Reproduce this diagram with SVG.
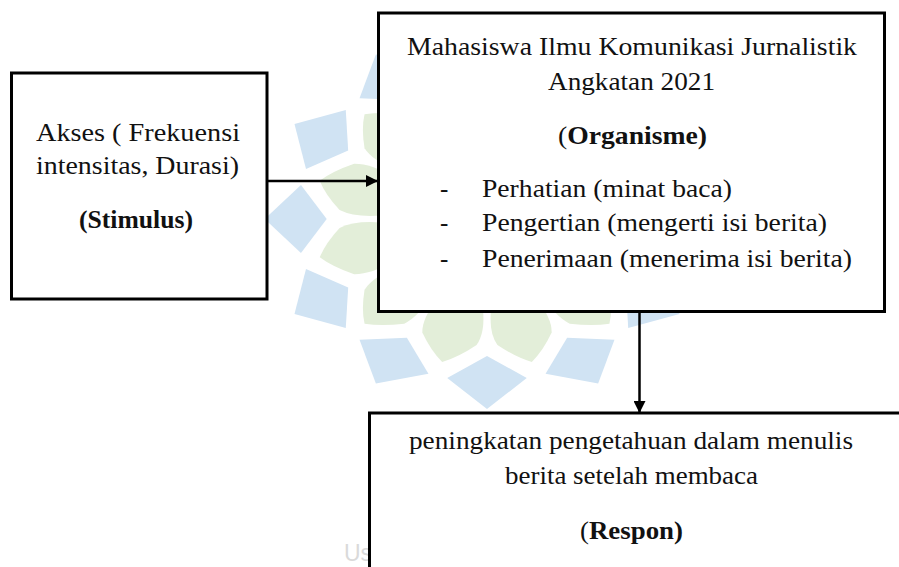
<svg xmlns="http://www.w3.org/2000/svg" xmlns:xlink="http://www.w3.org/1999/xlink" width="899" height="567" viewBox="0 0 899 567">
  <style>
    .box { fill: #ffffff; stroke: #000000; stroke-width: 3; }
    .t { font-family: 'Liberation Serif', 'Times New Roman', Times, serif; font-size: 25px; fill: #111111; }
    .b { font-weight: bold; }
    .conn { stroke: #000000; stroke-width: 2.5; fill: none; }
    .wb { fill: #d0e3f3; }
    .wg { fill: #e3eed9; }
  </style>
  <defs>
    <marker id="arrow" viewBox="0 0 12 12" refX="12" refY="6" markerWidth="12" markerHeight="12" markerUnits="userSpaceOnUse" orient="auto">
      <path d="M0,0 L12,6 L0,12 Z" fill="#000000"/>
    </marker>
    <path id="petalB" d="M-26,0 L-4,-34 L27,0 L-4,34 Z"/>
    <path id="petalG" d="M-30,-20 Q-8,-28 6,-24 Q22,-12 30,0 Q22,12 6,24 Q-8,28 -30,20 Z"/>
  </defs>

  <!-- watermark -->
  <g id="watermark">
    <g transform="translate(487,219) scale(1.17,1)">
      <g class="wb">
        <use xlink:href="#petalB" transform="rotate(0) translate(163,0)"/>
        <use xlink:href="#petalB" transform="rotate(30) translate(163,0)"/>
        <use xlink:href="#petalB" transform="rotate(60) translate(163,0)"/>
        <use xlink:href="#petalB" transform="rotate(90) translate(163,0)"/>
        <use xlink:href="#petalB" transform="rotate(120) translate(163,0)"/>
        <use xlink:href="#petalB" transform="rotate(150) translate(163,0)"/>
        <use xlink:href="#petalB" transform="rotate(180) translate(163,0)"/>
        <use xlink:href="#petalB" transform="rotate(210) translate(163,0)"/>
        <use xlink:href="#petalB" transform="rotate(240) translate(163,0)"/>
        <use xlink:href="#petalB" transform="rotate(270) translate(163,0)"/>
        <use xlink:href="#petalB" transform="rotate(300) translate(163,0)"/>
        <use xlink:href="#petalB" transform="rotate(330) translate(163,0)"/>
      </g>
      <g class="wg">
        <use xlink:href="#petalG" transform="rotate(15) translate(118,0)"/>
        <use xlink:href="#petalG" transform="rotate(45) translate(118,0)"/>
        <use xlink:href="#petalG" transform="rotate(75) translate(118,0)"/>
        <use xlink:href="#petalG" transform="rotate(105) translate(118,0)"/>
        <use xlink:href="#petalG" transform="rotate(135) translate(118,0)"/>
        <use xlink:href="#petalG" transform="rotate(165) translate(118,0)"/>
        <use xlink:href="#petalG" transform="rotate(195) translate(118,0)"/>
        <use xlink:href="#petalG" transform="rotate(225) translate(118,0)"/>
        <use xlink:href="#petalG" transform="rotate(255) translate(118,0)"/>
        <use xlink:href="#petalG" transform="rotate(285) translate(118,0)"/>
        <use xlink:href="#petalG" transform="rotate(315) translate(118,0)"/>
        <use xlink:href="#petalG" transform="rotate(345) translate(118,0)"/>
      </g>
    </g>
    <text x="344" y="561" font-family="'Liberation Sans', Arial, sans-serif" font-size="23" fill="#dadada">Us</text>
  </g>

  <!-- nodes -->
  <g id="stimulus">
    <rect class="box" x="11.5" y="73" width="255.5" height="226"/>
    <text class="t" x="36" y="141" textLength="204" lengthAdjust="spacingAndGlyphs">Akses ( Frekuensi</text>
    <text class="t" x="36" y="174" textLength="203" lengthAdjust="spacingAndGlyphs">intensitas, Durasi)</text>
    <text class="t b" x="79" y="228" textLength="114" lengthAdjust="spacingAndGlyphs">(Stimulus)</text>
  </g>

  <g id="organisme">
    <rect class="box" x="378.5" y="13" width="506" height="298.5"/>
    <text class="t" x="407" y="55" textLength="450" lengthAdjust="spacingAndGlyphs">Mahasiswa Ilmu Komunikasi Jurnalistik</text>
    <text class="t" x="548" y="90" textLength="167" lengthAdjust="spacingAndGlyphs">Angkatan 2021</text>
    <text class="t" x="558" y="144" textLength="149" lengthAdjust="spacingAndGlyphs">(<tspan class="b">Organisme)</tspan></text>
    <text class="t" x="440" y="197">-</text>
    <text class="t" x="482" y="197" textLength="250" lengthAdjust="spacingAndGlyphs">Perhatian (minat baca)</text>
    <text class="t" x="440" y="231">-</text>
    <text class="t" x="482" y="231" textLength="345" lengthAdjust="spacingAndGlyphs">Pengertian (mengerti isi berita)</text>
    <text class="t" x="440" y="267">-</text>
    <text class="t" x="482" y="267" textLength="370" lengthAdjust="spacingAndGlyphs">Penerimaan (menerima isi berita)</text>
  </g>

  <g id="respon">
    <rect class="box" x="369.5" y="413" width="600" height="200"/>
    <text class="t" x="409" y="449" textLength="444" lengthAdjust="spacingAndGlyphs">peningkatan pengetahuan dalam menulis</text>
    <text class="t" x="505" y="484" textLength="253" lengthAdjust="spacingAndGlyphs">berita setelah membaca</text>
    <text class="t" x="580" y="539" textLength="103" lengthAdjust="spacingAndGlyphs">(<tspan class="b">Respon)</tspan></text>
  </g>

  <!-- connectors -->
  <g id="connectors">
    <line class="conn" x1="267" y1="181" x2="378" y2="181" marker-end="url(#arrow)"/>
    <line class="conn" x1="639.5" y1="312" x2="639.5" y2="413" marker-end="url(#arrow)"/>
  </g>
</svg>
